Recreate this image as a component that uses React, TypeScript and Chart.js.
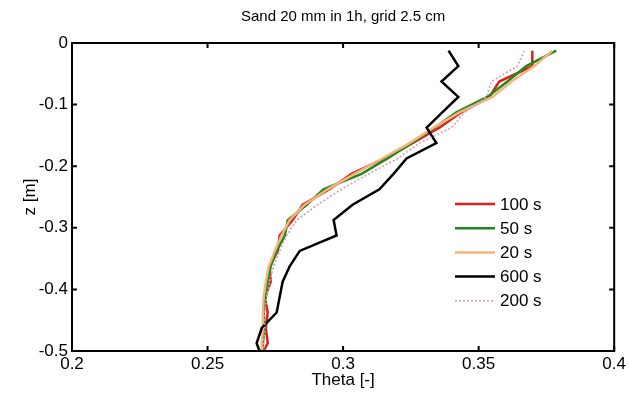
import React, { useEffect, useRef } from 'react';
import { Chart, registerables } from 'chart.js';

Chart.register(...registerables);

const titleText = 'Sand 20 mm in 1h, grid 2.5 cm';
const xTitle = 'Theta [-]';
const yTitle = 'z [m]';

const xTicks = [0.2, 0.25, 0.3, 0.35, 0.4];
const yTicks = [0, -0.1, -0.2, -0.3, -0.4, -0.5];

const zLevels = [
  -0.0125, -0.0375, -0.0625, -0.0875, -0.1125, -0.1375, -0.1625, -0.1875,
  -0.2125, -0.2375, -0.2625, -0.2875, -0.3125, -0.3375, -0.3625, -0.3875,
  -0.4125, -0.4375, -0.4625, -0.4875, -0.5,
];

const theta100 = [
  0.3698, 0.3698, 0.3576, 0.354, 0.3436, 0.3355, 0.3256, 0.3153, 0.3031, 0.295,
  0.2851, 0.2814, 0.2766, 0.2759, 0.2729, 0.2733, 0.2711, 0.2722, 0.2715, 0.2722, 0.2707,
];
const theta50 = [
  0.3786, 0.3676, 0.3606, 0.3532, 0.3418, 0.3337, 0.3252, 0.3164, 0.3068, 0.2928,
  0.2866, 0.2796, 0.2785, 0.2755, 0.2733, 0.2722, 0.2715, 0.2707, 0.2711, 0.2704, 0.2704,
];
const theta20 = [
  0.3772, 0.3705, 0.3621, 0.3551, 0.3429, 0.3333, 0.3245, 0.3145, 0.3042, 0.2943,
  0.2858, 0.2803, 0.2773, 0.2748, 0.2726, 0.2715, 0.2707, 0.2704, 0.2704, 0.27, 0.27,
];
const theta600 = [
  0.3389, 0.3425, 0.3363, 0.3425, 0.3366, 0.3308, 0.3344, 0.3234, 0.3186, 0.3134,
  0.3035, 0.2965, 0.2976, 0.284, 0.2803, 0.2777, 0.2766, 0.2755, 0.27, 0.2681, 0.2692,
];
const theta200 = [
  0.3668, 0.3643, 0.3547, 0.3529, 0.3448, 0.34, 0.3282, 0.3201, 0.3094, 0.2994,
  0.2906, 0.2829, 0.2792, 0.2766, 0.2744, 0.2729, 0.2718, 0.2711, 0.2711, 0.2707, 0.2707,
];

const seriesLabels = ['100 s', '50 s', '20 s', '600 s', '200 s'];
const seriesData = [theta100, theta50, theta20, theta600, theta200];
const seriesColors = ['#e31c1c', '#1d8a1d', '#f5b57a', '#000000', '#d69db2'];
const seriesDash = [[], [], [], [], [2, 2]];
const seriesWidth = [2.5, 2.5, 2.5, 2.5, 1.6];

const FONT = "'Liberation Sans', Arial, sans-serif";

const framePlugin = {
  id: 'frame',
  afterDatasetsDraw(chart: any) {
    const { ctx, chartArea } = chart;
    const xs = chart.scales.x;
    const ys = chart.scales.y;
    const { left, right, top, bottom } = chartArea;
    ctx.save();
    ctx.strokeStyle = '#000';
    ctx.lineWidth = 2;
    ctx.beginPath();
    ctx.rect(left, top, right - left, bottom - top);
    ctx.stroke();
    const tl = 5;
    ctx.beginPath();
    xTicks.forEach((v) => {
      const px = xs.getPixelForValue(v);
      ctx.moveTo(px, bottom);
      ctx.lineTo(px, bottom - tl);
      ctx.moveTo(px, top);
      ctx.lineTo(px, top + tl);
    });
    yTicks.forEach((v) => {
      const py = ys.getPixelForValue(v);
      ctx.moveTo(left, py);
      ctx.lineTo(left + tl, py);
      ctx.moveTo(right, py);
      ctx.lineTo(right - tl, py);
    });
    ctx.stroke();
    ctx.fillStyle = '#000';
    ctx.font = `15px ${FONT}`;
    ctx.textAlign = 'center';
    ctx.textBaseline = 'middle';
    ctx.fillText(titleText, (left + right) / 2, 17);
    ctx.restore();
  },
};

const legendPlugin = {
  id: 'customLegend',
  afterDraw(chart: any) {
    const { ctx } = chart;
    const x0 = 455;
    const x1 = 495;
    const tx = 500;
    const y0 = 204;
    const dy = 24.2;
    ctx.save();
    ctx.font = `17px ${FONT}`;
    ctx.textBaseline = 'middle';
    ctx.textAlign = 'left';
    chart.data.datasets.forEach((ds: any, i: number) => {
      const y = y0 + i * dy;
      ctx.strokeStyle = ds.borderColor;
      ctx.lineWidth = ds.borderWidth;
      ctx.setLineDash(ds.borderDash || []);
      ctx.beginPath();
      ctx.moveTo(x0, y);
      ctx.lineTo(x1, y);
      ctx.stroke();
      ctx.setLineDash([]);
      ctx.fillStyle = '#000';
      ctx.fillText(ds.label, tx, y + 1);
    });
    ctx.restore();
  },
};

export default function App() {
  const ref = useRef<HTMLCanvasElement | null>(null);
  useEffect(() => {
    document.body.style.margin = '0';
    const canvas = ref.current;
    if (!canvas) return;
    const datasets = seriesLabels.map((label, i) => ({
      label,
      data: zLevels.map((z, k) => ({ x: seriesData[i][k], y: z })),
      borderColor: seriesColors[i],
      backgroundColor: seriesColors[i],
      borderWidth: seriesWidth[i],
      borderDash: seriesDash[i],
      showLine: true,
      pointRadius: 0,
      tension: 0,
      fill: false,
      order: seriesLabels.length - i,
    }));
    const tickFont = { family: FONT, size: 17 };
    const chart = new Chart(canvas, {
      type: 'scatter',
      data: { datasets },
      options: {
        responsive: false,
        animation: false,
        devicePixelRatio: 1,
        layout: { padding: { left: 20, right: 14, top: 43, bottom: 8 } },
        plugins: {
          legend: { display: false },
          tooltip: { enabled: false },
          title: { display: false },
        },
        scales: {
          x: {
            type: 'linear',
            min: 0.2,
            max: 0.4,
            afterFit: (s: any) => {
              s.height = 40;
            },
            afterBuildTicks: (s: any) => {
              s.ticks = xTicks.map((v) => ({ value: v }));
            },
            ticks: {
              color: '#000',
              font: tickFont,
              padding: 3,
              maxRotation: 0,
              autoSkip: false,
              callback: (v: any) => String(Number(v)),
            },
            grid: { display: false, drawTicks: false },
            border: { display: false },
            title: { display: true, text: xTitle, color: '#000', font: tickFont, padding: 0 },
          },
          y: {
            type: 'linear',
            min: -0.5,
            max: 0,
            afterFit: (s: any) => {
              s.width = 52;
            },
            afterBuildTicks: (s: any) => {
              s.ticks = yTicks.map((v) => ({ value: v }));
            },
            ticks: {
              color: '#000',
              font: tickFont,
              padding: 4,
              autoSkip: false,
              callback: (v: any) => String(Number(v)),
            },
            grid: { display: false, drawTicks: false },
            border: { display: false },
            title: { display: true, text: yTitle, color: '#000', font: tickFont, padding: 0 },
          },
        },
      },
      plugins: [framePlugin, legendPlugin],
    } as any);
    return () => chart.destroy();
  }, []);
  return (
    <div style={{ width: 629, height: 399, background: '#fff' }}>
      <canvas ref={ref} width={629} height={399} style={{ display: 'block' }} />
    </div>
  );
}
